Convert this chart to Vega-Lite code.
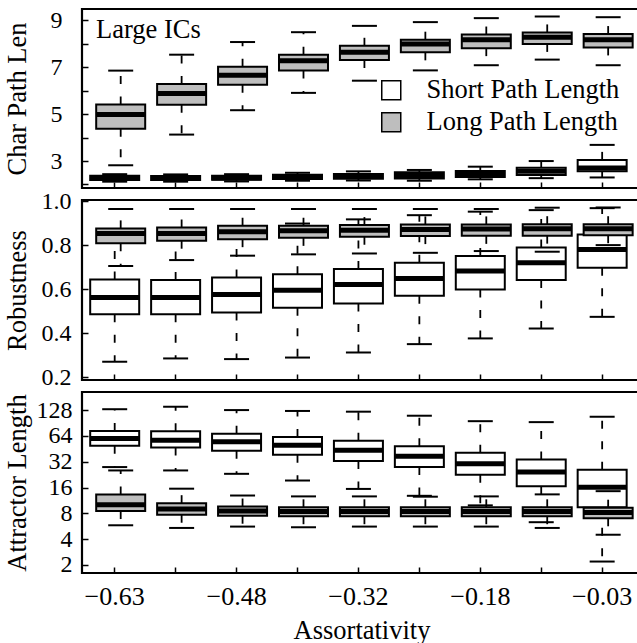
{
  "$schema": "https://vega.github.io/schema/vega-lite/v6.json",
  "padding": {"left": 2, "top": 7, "right": 0, "bottom": 0},
  "bounds": "flush",
  "spacing": 12,
  "config": {
    "font": "Liberation Serif",
    "view": {"stroke": "black", "strokeWidth": 2.2},
    "tick": {"opacity": 1},
    "axis": {
      "labelFont": "Liberation Serif", "titleFont": "Liberation Serif",
      "labelFontSize": 24, "titleFontSize": 26.5, "titleFontWeight": "normal",
      "labelColor": "black", "titleColor": "black", "tickColor": "black",
      "tickSize": -6, "tickWidth": 1.5, "domain": false, "grid": false, "labelOverlap": false
    }
  },
  "resolve": {
    "scale": {"x": "independent", "y": "independent", "fill": "independent"},
    "legend": {"fill": "independent"}
  },
  "datasets": {
    "d": [
      {"p": "cpl", "s": "Short Path Length", "a": -0.63, "lo": 2.12, "q1": 2.19, "med": 2.27, "q3": 2.37, "hi": 2.44},
      {"p": "cpl", "s": "Short Path Length", "a": -0.55, "lo": 2.12, "q1": 2.19, "med": 2.27, "q3": 2.36, "hi": 2.43},
      {"p": "cpl", "s": "Short Path Length", "a": -0.48, "lo": 2.13, "q1": 2.2, "med": 2.28, "q3": 2.37, "hi": 2.44},
      {"p": "cpl", "s": "Short Path Length", "a": -0.4, "lo": 2.16, "q1": 2.23, "med": 2.32, "q3": 2.42, "hi": 2.5},
      {"p": "cpl", "s": "Short Path Length", "a": -0.32, "lo": 2.17, "q1": 2.25, "med": 2.34, "q3": 2.45, "hi": 2.56},
      {"p": "cpl", "s": "Short Path Length", "a": -0.25, "lo": 2.16, "q1": 2.26, "med": 2.38, "q3": 2.52, "hi": 2.62},
      {"p": "cpl", "s": "Short Path Length", "a": -0.18, "lo": 2.22, "q1": 2.32, "med": 2.44, "q3": 2.58, "hi": 2.76},
      {"p": "cpl", "s": "Short Path Length", "a": -0.1, "lo": 2.27, "q1": 2.4, "med": 2.56, "q3": 2.71, "hi": 3.0},
      {"p": "cpl", "s": "Short Path Length", "a": -0.03, "lo": 2.3, "q1": 2.56, "med": 2.7, "q3": 3.05, "hi": 3.69},
      {"p": "cpl", "s": "Long Path Length", "a": -0.63, "lo": 2.82, "q1": 4.38, "med": 4.99, "q3": 5.41, "hi": 6.86},
      {"p": "cpl", "s": "Long Path Length", "a": -0.55, "lo": 4.13, "q1": 5.4, "med": 5.88, "q3": 6.29, "hi": 7.54},
      {"p": "cpl", "s": "Long Path Length", "a": -0.48, "lo": 5.17, "q1": 6.26, "med": 6.66, "q3": 7.03, "hi": 8.08},
      {"p": "cpl", "s": "Long Path Length", "a": -0.4, "lo": 5.91, "q1": 6.87, "med": 7.28, "q3": 7.54, "hi": 8.5},
      {"p": "cpl", "s": "Long Path Length", "a": -0.32, "lo": 6.43, "q1": 7.31, "med": 7.64, "q3": 7.92, "hi": 8.77},
      {"p": "cpl", "s": "Long Path Length", "a": -0.25, "lo": 6.87, "q1": 7.64, "med": 8.0, "q3": 8.18, "hi": 8.93},
      {"p": "cpl", "s": "Long Path Length", "a": -0.18, "lo": 7.09, "q1": 7.82, "med": 8.18, "q3": 8.4, "hi": 9.1},
      {"p": "cpl", "s": "Long Path Length", "a": -0.1, "lo": 7.33, "q1": 8.0, "med": 8.28, "q3": 8.49, "hi": 9.17},
      {"p": "cpl", "s": "Long Path Length", "a": -0.03, "lo": 7.09, "q1": 7.85, "med": 8.18, "q3": 8.42, "hi": 9.14},
      {"p": "rob", "s": "Short Path Length", "a": -0.63, "lo": 0.27, "q1": 0.486, "med": 0.562, "q3": 0.644, "hi": 0.84},
      {"p": "rob", "s": "Short Path Length", "a": -0.55, "lo": 0.285, "q1": 0.486, "med": 0.562, "q3": 0.641, "hi": 0.86},
      {"p": "rob", "s": "Short Path Length", "a": -0.48, "lo": 0.282, "q1": 0.494, "med": 0.576, "q3": 0.653, "hi": 0.87},
      {"p": "rob", "s": "Short Path Length", "a": -0.4, "lo": 0.289, "q1": 0.515, "med": 0.595, "q3": 0.668, "hi": 0.898},
      {"p": "rob", "s": "Short Path Length", "a": -0.32, "lo": 0.312, "q1": 0.535, "med": 0.621, "q3": 0.691, "hi": 0.917},
      {"p": "rob", "s": "Short Path Length", "a": -0.25, "lo": 0.35, "q1": 0.57, "med": 0.648, "q3": 0.72, "hi": 0.936},
      {"p": "rob", "s": "Short Path Length", "a": -0.18, "lo": 0.376, "q1": 0.598, "med": 0.682, "q3": 0.75, "hi": 0.952},
      {"p": "rob", "s": "Short Path Length", "a": -0.1, "lo": 0.421, "q1": 0.641, "med": 0.72, "q3": 0.789, "hi": 0.959},
      {"p": "rob", "s": "Short Path Length", "a": -0.03, "lo": 0.474, "q1": 0.697, "med": 0.78, "q3": 0.848, "hi": 0.968},
      {"p": "rob", "s": "Long Path Length", "a": -0.63, "lo": 0.705, "q1": 0.808, "med": 0.853, "q3": 0.876, "hi": 0.964},
      {"p": "rob", "s": "Long Path Length", "a": -0.55, "lo": 0.732, "q1": 0.82, "med": 0.853, "q3": 0.88, "hi": 0.964},
      {"p": "rob", "s": "Long Path Length", "a": -0.48, "lo": 0.752, "q1": 0.827, "med": 0.861, "q3": 0.888, "hi": 0.964},
      {"p": "rob", "s": "Long Path Length", "a": -0.4, "lo": 0.758, "q1": 0.833, "med": 0.865, "q3": 0.888, "hi": 0.964},
      {"p": "rob", "s": "Long Path Length", "a": -0.32, "lo": 0.762, "q1": 0.838, "med": 0.868, "q3": 0.891, "hi": 0.964},
      {"p": "rob", "s": "Long Path Length", "a": -0.25, "lo": 0.765, "q1": 0.841, "med": 0.871, "q3": 0.894, "hi": 0.964},
      {"p": "rob", "s": "Long Path Length", "a": -0.18, "lo": 0.773, "q1": 0.842, "med": 0.873, "q3": 0.894, "hi": 0.964},
      {"p": "rob", "s": "Long Path Length", "a": -0.1, "lo": 0.77, "q1": 0.843, "med": 0.874, "q3": 0.895, "hi": 0.97},
      {"p": "rob", "s": "Long Path Length", "a": -0.03, "lo": 0.8, "q1": 0.845, "med": 0.874, "q3": 0.895, "hi": 0.971},
      {"p": "att", "s": "Short Path Length", "a": -0.63, "lo": 27.7, "q1": 49, "med": 59.6, "q3": 73, "hi": 131},
      {"p": "att", "s": "Short Path Length", "a": -0.55, "lo": 25.3, "q1": 46.8, "med": 56.8, "q3": 72.6, "hi": 140},
      {"p": "att", "s": "Short Path Length", "a": -0.48, "lo": 23.1, "q1": 42.8, "med": 54.5, "q3": 68, "hi": 128},
      {"p": "att", "s": "Short Path Length", "a": -0.4, "lo": 19.3, "q1": 38.6, "med": 49.8, "q3": 62.3, "hi": 125},
      {"p": "att", "s": "Short Path Length", "a": -0.32, "lo": 15.4, "q1": 32.6, "med": 43.5, "q3": 56, "hi": 122.6},
      {"p": "att", "s": "Short Path Length", "a": -0.25, "lo": 12.8, "q1": 27.7, "med": 37, "q3": 48.5, "hi": 110},
      {"p": "att", "s": "Short Path Length", "a": -0.18, "lo": 9.9, "q1": 22.5, "med": 30.3, "q3": 40.8, "hi": 95},
      {"p": "att", "s": "Short Path Length", "a": -0.1, "lo": 6.3, "q1": 16.5, "med": 24.2, "q3": 34, "hi": 92.6},
      {"p": "att", "s": "Short Path Length", "a": -0.03, "lo": 2.19, "q1": 9.4, "med": 16.1, "q3": 25.8, "hi": 107},
      {"p": "att", "s": "Long Path Length", "a": -0.63, "lo": 5.8, "q1": 8.5, "med": 10.1, "q3": 13.3, "hi": 25.3},
      {"p": "att", "s": "Long Path Length", "a": -0.55, "lo": 5.4, "q1": 7.7, "med": 9.0, "q3": 10.5, "hi": 15.5},
      {"p": "att", "s": "Long Path Length", "a": -0.48, "lo": 5.6, "q1": 7.5, "med": 8.5, "q3": 9.6, "hi": 12.9},
      {"p": "att", "s": "Long Path Length", "a": -0.4, "lo": 5.5, "q1": 7.4, "med": 8.4, "q3": 9.4, "hi": 12.6},
      {"p": "att", "s": "Long Path Length", "a": -0.32, "lo": 5.6, "q1": 7.4, "med": 8.4, "q3": 9.4, "hi": 12.6},
      {"p": "att", "s": "Long Path Length", "a": -0.25, "lo": 5.6, "q1": 7.4, "med": 8.4, "q3": 9.4, "hi": 12.5},
      {"p": "att", "s": "Long Path Length", "a": -0.18, "lo": 5.6, "q1": 7.4, "med": 8.4, "q3": 9.4, "hi": 12.6},
      {"p": "att", "s": "Long Path Length", "a": -0.1, "lo": 5.4, "q1": 7.4, "med": 8.4, "q3": 9.4, "hi": 13.3},
      {"p": "att", "s": "Long Path Length", "a": -0.03, "lo": 4.5, "q1": 7.0, "med": 8.2, "q3": 9.3, "hi": 14.5}
    ]
  },
  "vconcat": [
    {
      "width": 559, "height": 179,
      "title": {"text": "Large ICs", "frame": "group", "anchor": "start", "orient": "top", "offset": 0, "dy": 56, "baseline": "alphabetic", "dx": 14, "fontSize": 26.5, "fontWeight": "normal", "font": "Liberation Serif", "color": "black"},
      "data": {"name": "d"},
      "transform": [{"filter": "datum.p == 'cpl'"}],
      "encoding": {
        "x": {"field": "a", "type": "ordinal", "scale": {"paddingInner": 0, "paddingOuter": 0.087, "align": 0.21}, "axis": {"labels": false, "title": null}}
      },
      "layer": [
        {"transform": [{"filter": "datum.s == 'Short Path Length'"}], "layer": [
          {"mark": {"type": "rule", "strokeDash": [8, 12.5], "strokeWidth": 1.8, "color": "black"}, "encoding": {"y": {"field": "q3", "type": "quantitative", "scale": {"domain": [1.85, 9.49], "zero": false, "nice": false}, "axis": {"title": "Char Path Len", "values": [2, 3, 4, 5, 6, 7, 8, 9], "format": "d", "labelExpr": "indexof([3, 5, 7, 9], datum.value) >= 0 ? datum.label : ''", "labelOverlap": false, "labelPadding": 26, "titleX": -57, "titleBaseline": "alphabetic"}}, "y2": {"field": "hi"}}},
          {"mark": {"type": "rule", "strokeDash": [8, 12.5], "strokeWidth": 1.8, "color": "black"}, "encoding": {"y": {"field": "q1", "type": "quantitative", "axis": {"title": "Char Path Len", "values": [2, 3, 4, 5, 6, 7, 8, 9], "format": "d", "labelExpr": "indexof([3, 5, 7, 9], datum.value) >= 0 ? datum.label : ''", "labelOverlap": false, "labelPadding": 26, "titleX": -57, "titleBaseline": "alphabetic"}}, "y2": {"field": "lo"}}},
          {"mark": {"type": "bar", "width": 49, "stroke": "black", "strokeWidth": 2}, "encoding": {"y": {"field": "q1", "type": "quantitative", "axis": {"title": "Char Path Len", "values": [2, 3, 4, 5, 6, 7, 8, 9], "format": "d", "labelExpr": "indexof([3, 5, 7, 9], datum.value) >= 0 ? datum.label : ''", "labelOverlap": false, "labelPadding": 26, "titleX": -57, "titleBaseline": "alphabetic"}}, "y2": {"field": "q3"}, "fill": {"field": "s", "type": "nominal", "scale": {"domain": ["Short Path Length", "Long Path Length"], "range": ["white", "#bebebe"]}, "legend": {"orient": "none", "legendX": 296, "legendY": 68, "title": null, "direction": "vertical", "symbolType": "square", "symbolSize": 361, "symbolStrokeColor": "black", "symbolStrokeWidth": 1.5, "labelFont": "Liberation Serif", "labelFontSize": 26.5, "labelColor": "black", "labelOffset": 22, "rowPadding": 5, "padding": 0, "labelLimit": 400}}}},
          {"mark": {"type": "tick", "size": 49, "thickness": 5, "color": "black", "opacity": 1}, "encoding": {"y": {"field": "med", "type": "quantitative", "axis": {"title": "Char Path Len", "values": [2, 3, 4, 5, 6, 7, 8, 9], "format": "d", "labelExpr": "indexof([3, 5, 7, 9], datum.value) >= 0 ? datum.label : ''", "labelOverlap": false, "labelPadding": 26, "titleX": -57, "titleBaseline": "alphabetic"}}}},
          {"mark": {"type": "tick", "size": 25, "thickness": 2, "color": "black", "opacity": 1}, "encoding": {"y": {"field": "lo", "type": "quantitative", "axis": {"title": "Char Path Len", "values": [2, 3, 4, 5, 6, 7, 8, 9], "format": "d", "labelExpr": "indexof([3, 5, 7, 9], datum.value) >= 0 ? datum.label : ''", "labelOverlap": false, "labelPadding": 26, "titleX": -57, "titleBaseline": "alphabetic"}}}},
          {"mark": {"type": "tick", "size": 25, "thickness": 2, "color": "black", "opacity": 1}, "encoding": {"y": {"field": "hi", "type": "quantitative", "axis": {"title": "Char Path Len", "values": [2, 3, 4, 5, 6, 7, 8, 9], "format": "d", "labelExpr": "indexof([3, 5, 7, 9], datum.value) >= 0 ? datum.label : ''", "labelOverlap": false, "labelPadding": 26, "titleX": -57, "titleBaseline": "alphabetic"}}}}
        ]},
        {"transform": [{"filter": "datum.s == 'Long Path Length'"}], "layer": [
          {"mark": {"type": "rule", "strokeDash": [8, 12.5], "strokeWidth": 1.8, "color": "black", "xOffset": 6}, "encoding": {"y": {"field": "q3", "type": "quantitative", "axis": {"title": "Char Path Len", "values": [2, 3, 4, 5, 6, 7, 8, 9], "format": "d", "labelExpr": "indexof([3, 5, 7, 9], datum.value) >= 0 ? datum.label : ''", "labelOverlap": false, "labelPadding": 26, "titleX": -57, "titleBaseline": "alphabetic"}}, "y2": {"field": "hi"}}},
          {"mark": {"type": "rule", "strokeDash": [8, 12.5], "strokeWidth": 1.8, "color": "black", "xOffset": 6}, "encoding": {"y": {"field": "q1", "type": "quantitative", "axis": {"title": "Char Path Len", "values": [2, 3, 4, 5, 6, 7, 8, 9], "format": "d", "labelExpr": "indexof([3, 5, 7, 9], datum.value) >= 0 ? datum.label : ''", "labelOverlap": false, "labelPadding": 26, "titleX": -57, "titleBaseline": "alphabetic"}}, "y2": {"field": "lo"}}},
          {"mark": {"type": "bar", "width": 49, "stroke": "black", "strokeWidth": 2, "xOffset": 6}, "encoding": {"y": {"field": "q1", "type": "quantitative", "axis": {"title": "Char Path Len", "values": [2, 3, 4, 5, 6, 7, 8, 9], "format": "d", "labelExpr": "indexof([3, 5, 7, 9], datum.value) >= 0 ? datum.label : ''", "labelOverlap": false, "labelPadding": 26, "titleX": -57, "titleBaseline": "alphabetic"}}, "y2": {"field": "q3"}, "fill": {"field": "s", "type": "nominal", "legend": null}}},
          {"mark": {"type": "tick", "size": 49, "thickness": 5, "color": "black", "opacity": 1, "xOffset": 6}, "encoding": {"y": {"field": "med", "type": "quantitative", "axis": {"title": "Char Path Len", "values": [2, 3, 4, 5, 6, 7, 8, 9], "format": "d", "labelExpr": "indexof([3, 5, 7, 9], datum.value) >= 0 ? datum.label : ''", "labelOverlap": false, "labelPadding": 26, "titleX": -57, "titleBaseline": "alphabetic"}}}},
          {"mark": {"type": "tick", "size": 25, "thickness": 2, "color": "black", "opacity": 1, "xOffset": 6}, "encoding": {"y": {"field": "lo", "type": "quantitative", "axis": {"title": "Char Path Len", "values": [2, 3, 4, 5, 6, 7, 8, 9], "format": "d", "labelExpr": "indexof([3, 5, 7, 9], datum.value) >= 0 ? datum.label : ''", "labelOverlap": false, "labelPadding": 26, "titleX": -57, "titleBaseline": "alphabetic"}}}},
          {"mark": {"type": "tick", "size": 25, "thickness": 2, "color": "black", "opacity": 1, "xOffset": 6}, "encoding": {"y": {"field": "hi", "type": "quantitative", "axis": {"title": "Char Path Len", "values": [2, 3, 4, 5, 6, 7, 8, 9], "format": "d", "labelExpr": "indexof([3, 5, 7, 9], datum.value) >= 0 ? datum.label : ''", "labelOverlap": false, "labelPadding": 26, "titleX": -57, "titleBaseline": "alphabetic"}}}}
        ]}
      ]
    },
    {
      "width": 559, "height": 180,
      "data": {"name": "d"},
      "transform": [{"filter": "datum.p == 'rob'"}],
      "encoding": {
        "x": {"field": "a", "type": "ordinal", "scale": {"paddingInner": 0, "paddingOuter": 0.087, "align": 0.21}, "axis": {"labels": false, "title": null}}
      },
      "layer": [
        {"transform": [{"filter": "datum.s == 'Short Path Length'"}], "layer": [
          {"mark": {"type": "rule", "strokeDash": [8, 12.5], "strokeWidth": 1.8, "color": "black"}, "encoding": {"y": {"field": "q3", "type": "quantitative", "scale": {"domain": [0.187, 1.005], "zero": false, "nice": false}, "axis": {"title": "Robustness", "values": [0.2, 0.4, 0.6, 0.8, 1.0], "format": ".1f", "labelOverlap": false, "labelPadding": 17, "titleX": -57, "titleBaseline": "alphabetic"}}, "y2": {"field": "hi"}}},
          {"mark": {"type": "rule", "strokeDash": [8, 12.5], "strokeWidth": 1.8, "color": "black"}, "encoding": {"y": {"field": "q1", "type": "quantitative"}, "y2": {"field": "lo"}}},
          {"mark": {"type": "bar", "width": 49, "stroke": "black", "strokeWidth": 2}, "encoding": {"y": {"field": "q1", "type": "quantitative"}, "y2": {"field": "q3"}, "fill": {"field": "s", "type": "nominal", "scale": {"domain": ["Short Path Length", "Long Path Length"], "range": ["white", "#bebebe"]}, "legend": null}}},
          {"mark": {"type": "tick", "size": 49, "thickness": 5, "color": "black", "opacity": 1}, "encoding": {"y": {"field": "med", "type": "quantitative"}}},
          {"mark": {"type": "tick", "size": 25, "thickness": 2, "color": "black", "opacity": 1}, "encoding": {"y": {"field": "lo", "type": "quantitative"}}},
          {"mark": {"type": "tick", "size": 25, "thickness": 2, "color": "black", "opacity": 1}, "encoding": {"y": {"field": "hi", "type": "quantitative"}}}
        ]},
        {"transform": [{"filter": "datum.s == 'Long Path Length'"}], "layer": [
          {"mark": {"type": "rule", "strokeDash": [8, 12.5], "strokeWidth": 1.8, "color": "black", "xOffset": 6}, "encoding": {"y": {"field": "q3", "type": "quantitative"}, "y2": {"field": "hi"}}},
          {"mark": {"type": "rule", "strokeDash": [8, 12.5], "strokeWidth": 1.8, "color": "black", "xOffset": 6}, "encoding": {"y": {"field": "q1", "type": "quantitative"}, "y2": {"field": "lo"}}},
          {"mark": {"type": "bar", "width": 49, "stroke": "black", "strokeWidth": 2, "xOffset": 6}, "encoding": {"y": {"field": "q1", "type": "quantitative"}, "y2": {"field": "q3"}, "fill": {"field": "s", "type": "nominal", "legend": null}}},
          {"mark": {"type": "tick", "size": 49, "thickness": 5, "color": "black", "opacity": 1, "xOffset": 6}, "encoding": {"y": {"field": "med", "type": "quantitative"}}},
          {"mark": {"type": "tick", "size": 25, "thickness": 2, "color": "black", "opacity": 1, "xOffset": 6}, "encoding": {"y": {"field": "lo", "type": "quantitative"}}},
          {"mark": {"type": "tick", "size": 25, "thickness": 2, "color": "black", "opacity": 1, "xOffset": 6}, "encoding": {"y": {"field": "hi", "type": "quantitative"}}}
        ]}
      ]
    },
    {
      "width": 559, "height": 181,
      "data": {"name": "d"},
      "transform": [{"filter": "datum.p == 'att'"}],
      "encoding": {
        "x": {"field": "a", "type": "ordinal", "scale": {"paddingInner": 0, "paddingOuter": 0.087, "align": 0.21}, "axis": {"title": "Assortativity", "labelAngle": 0, "labelFontSize": 26, "labelPadding": 16, "labelExpr": "indexof([-0.63, -0.48, -0.32, -0.18, -0.03], datum.value) >= 0 ? replace(format(datum.value, '.2f'), '-', '−') : ''", "titleBaseline": "alphabetic", "titleY": 65}}
      },
      "layer": [
        {"transform": [{"filter": "datum.s == 'Short Path Length'"}], "layer": [
          {"mark": {"type": "rule", "strokeDash": [8, 12.5], "strokeWidth": 1.8, "color": "black"}, "encoding": {"y": {"field": "q3", "type": "quantitative", "scale": {"type": "log", "base": 2, "domain": [1.61, 208], "nice": false}, "axis": {"title": "Attractor Length", "values": [2, 4, 8, 16, 32, 64, 128], "format": "d", "labelOverlap": false, "labelPadding": 16, "titleX": -57, "titleBaseline": "alphabetic"}}, "y2": {"field": "hi"}}},
          {"mark": {"type": "rule", "strokeDash": [8, 12.5], "strokeWidth": 1.8, "color": "black"}, "encoding": {"y": {"field": "q1", "type": "quantitative"}, "y2": {"field": "lo"}}},
          {"mark": {"type": "bar", "width": 49, "stroke": "black", "strokeWidth": 2}, "encoding": {"y": {"field": "q1", "type": "quantitative"}, "y2": {"field": "q3"}, "fill": {"field": "s", "type": "nominal", "scale": {"domain": ["Short Path Length", "Long Path Length"], "range": ["white", "#bebebe"]}, "legend": null}}},
          {"mark": {"type": "tick", "size": 49, "thickness": 5, "color": "black", "opacity": 1}, "encoding": {"y": {"field": "med", "type": "quantitative"}}},
          {"mark": {"type": "tick", "size": 25, "thickness": 2, "color": "black", "opacity": 1}, "encoding": {"y": {"field": "lo", "type": "quantitative"}}},
          {"mark": {"type": "tick", "size": 25, "thickness": 2, "color": "black", "opacity": 1}, "encoding": {"y": {"field": "hi", "type": "quantitative"}}}
        ]},
        {"transform": [{"filter": "datum.s == 'Long Path Length'"}], "layer": [
          {"mark": {"type": "rule", "strokeDash": [8, 12.5], "strokeWidth": 1.8, "color": "black", "xOffset": 6}, "encoding": {"y": {"field": "q3", "type": "quantitative"}, "y2": {"field": "hi"}}},
          {"mark": {"type": "rule", "strokeDash": [8, 12.5], "strokeWidth": 1.8, "color": "black", "xOffset": 6}, "encoding": {"y": {"field": "q1", "type": "quantitative"}, "y2": {"field": "lo"}}},
          {"mark": {"type": "bar", "width": 49, "stroke": "black", "strokeWidth": 2, "xOffset": 6}, "encoding": {"y": {"field": "q1", "type": "quantitative"}, "y2": {"field": "q3"}, "fill": {"field": "s", "type": "nominal", "legend": null}}},
          {"mark": {"type": "tick", "size": 49, "thickness": 5, "color": "black", "opacity": 1, "xOffset": 6}, "encoding": {"y": {"field": "med", "type": "quantitative"}}},
          {"mark": {"type": "tick", "size": 25, "thickness": 2, "color": "black", "opacity": 1, "xOffset": 6}, "encoding": {"y": {"field": "lo", "type": "quantitative"}}},
          {"mark": {"type": "tick", "size": 25, "thickness": 2, "color": "black", "opacity": 1, "xOffset": 6}, "encoding": {"y": {"field": "hi", "type": "quantitative"}}}
        ]}
      ]
    }
  ]
}
